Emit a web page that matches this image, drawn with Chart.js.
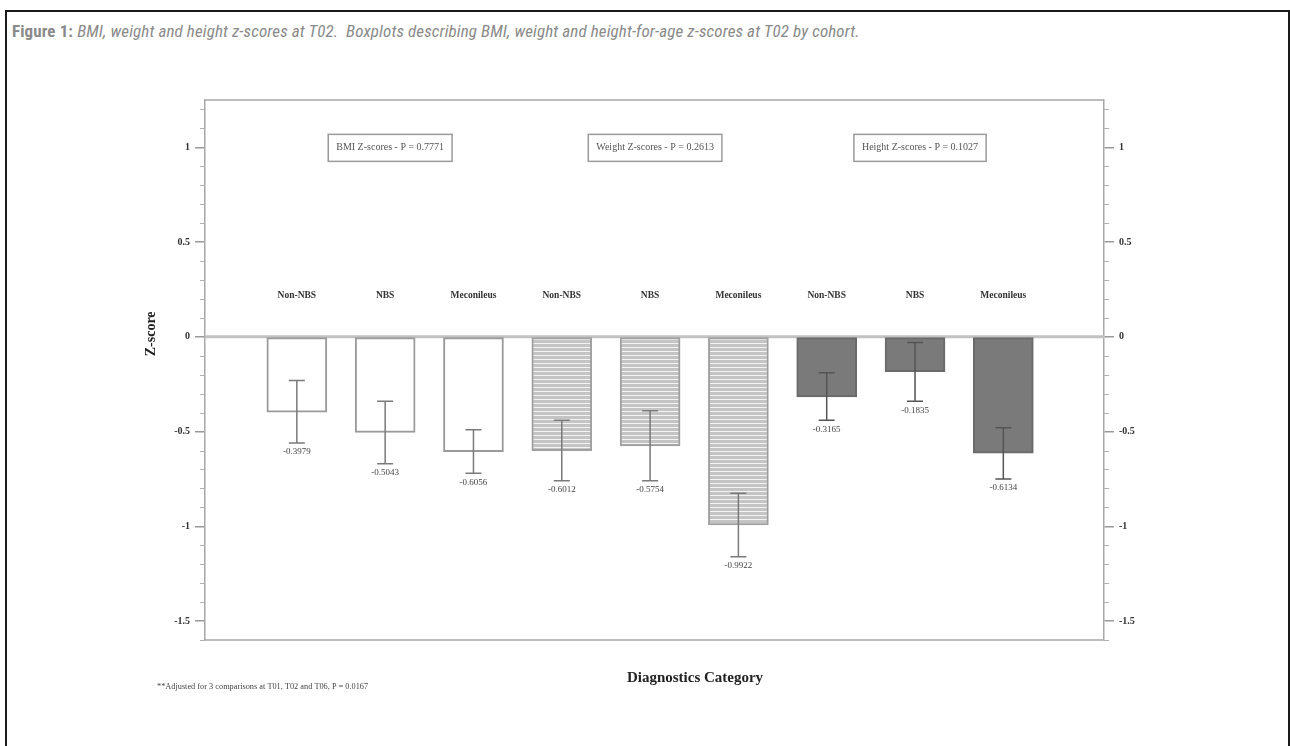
<!DOCTYPE html>
<html>
<head>
<meta charset="utf-8">
<script src="https://cdn.jsdelivr.net/npm/chart.js@4.4.0/dist/chart.umd.min.js"></script>
<style>
body { margin: 0; background: #fff; width: 1290px; height: 746px; overflow: hidden; position: relative; }
#frame { position: absolute; left: 5px; top: 10px; width: 1281px; height: 760px; border: 2px solid #1a1a1a; border-bottom: none; }
#caption { position: absolute; left: 12px; top: 21px; font-family: "Liberation Sans Narrow", "Roboto Condensed", "Arial Narrow", sans-serif; font-size: 17px; letter-spacing: 0.12px; color: #8a8a8a; white-space: nowrap; }
#caption b { font-weight: bold; }
#caption i { font-style: italic; }
canvas { position: absolute; left: 0; top: 0; }
</style>
</head>
<body>
<div id="frame"></div>
<div id="caption"><b>Figure 1:</b> <i>BMI, weight and height z-scores at T02.&nbsp; Boxplots describing BMI, weight and height-for-age z-scores at T02 by cohort.</i></div>
<canvas id="chart" width="1290" height="746"></canvas>
<script>
// Data
const categories = ["Non-NBS", "NBS", "Meconileus", "Non-NBS", "NBS", "Meconileus", "Non-NBS", "NBS", "Meconileus"];
const groupOf = [0, 0, 0, 1, 1, 1, 2, 2, 2];
const means = [-0.3979, -0.5043, -0.6056, -0.6012, -0.5754, -0.9922, -0.3165, -0.1835, -0.6134];
const errLow = [-0.56, -0.67, -0.72, -0.76, -0.76, -1.16, -0.44, -0.34, -0.75];
const errHigh = [-0.23, -0.34, -0.49, -0.44, -0.39, -0.826, -0.19, -0.03, -0.48];
const pLabels = ["BMI Z-scores - P = 0.7771", "Weight Z-scores - P = 0.2613", "Height Z-scores - P = 0.1027"];
const yTicks = [1, 0.5, 0, -0.5, -1, -1.5];
const footnote = "**Adjusted for 3 comparisons at T01, T02 and T06, P = 0.0167";

const serif = '"Liberation Serif", "DejaVu Serif", serif';

// striped fill for the weight bars
const stripe = document.createElement('canvas');
stripe.width = 8; stripe.height = 4;
const sctx = stripe.getContext('2d');
sctx.fillStyle = '#c4c4c4';
sctx.fillRect(0, 0, 8, 4);
sctx.fillStyle = '#f4f4f4';
sctx.fillRect(0, 3, 8, 1);
const stripePattern = sctx.createPattern(stripe, 'repeat');

const groupFill = ['#ffffff', stripePattern, '#7a7a7a'];
const groupBorder = ['#9a9a9a', '#a0a0a0', '#6a6a6a'];

// Extra drawing: frame, zero line, minor ticks, error bars, labels
const decor = {
    id: 'decor',
    beforeDatasetsDraw(chart) {
        const { ctx, chartArea: a, scales } = chart;
        const y = scales.y;
        ctx.save();
        ctx.strokeStyle = '#c2c2c2';
        ctx.lineWidth = 3;
        ctx.beginPath();
        ctx.moveTo(a.left, y.getPixelForValue(0));
        ctx.lineTo(a.right, y.getPixelForValue(0));
        ctx.stroke();
        ctx.restore();
    },
    afterDatasetsDraw(chart) {
        const { ctx, chartArea: a, scales } = chart;
        const x = scales.x, y = scales.y;
        ctx.save();
        // top and bottom border of plot box
        ctx.strokeStyle = '#a8a8a8';
        ctx.lineWidth = 1.5;
        ctx.beginPath();
        ctx.moveTo(a.left, a.top);
        ctx.lineTo(a.right, a.top);
        ctx.moveTo(a.left, a.bottom);
        ctx.lineTo(a.right, a.bottom);
        ctx.stroke();

        // minor ticks
        ctx.strokeStyle = '#b0b0b0';
        ctx.lineWidth = 1;
        for (let k = -16; k <= 12; k++) {
            if (k % 5 === 0) continue;
            const py = Math.round(y.getPixelForValue(k / 10)) + 0.5;
            ctx.beginPath();
            ctx.moveTo(a.left - 5, py); ctx.lineTo(a.left, py);
            ctx.moveTo(a.right, py); ctx.lineTo(a.right + 5, py);
            ctx.stroke();
        }

        // error bars and mean labels
        for (let i = 0; i < means.length; i++) {
            const px = x.getPixelForValue(i);
            const hi = y.getPixelForValue(errHigh[i]);
            const lo = y.getPixelForValue(errLow[i]);
            ctx.strokeStyle = groupOf[i] === 2 ? '#555' : '#7a7a7a';
            ctx.lineWidth = 1.5;
            ctx.beginPath();
            ctx.moveTo(px, hi); ctx.lineTo(px, lo);
            ctx.moveTo(px - 8, hi); ctx.lineTo(px + 8, hi);
            ctx.moveTo(px - 8, lo); ctx.lineTo(px + 8, lo);
            ctx.stroke();
            ctx.fillStyle = '#444';
            ctx.font = '9px ' + serif;
            ctx.textAlign = 'center';
            ctx.textBaseline = 'middle';
            ctx.fillText(means[i].toFixed(4), px, lo + 9);

            // category label above the zero line
            ctx.fillStyle = '#333';
            ctx.font = 'bold 9.5px ' + serif;
            ctx.fillText(categories[i], px, y.getPixelForValue(0.216));
        }

        // P value boxes
        for (let g = 0; g < pLabels.length; g++) {
            const cx = x.getPixelForValue(g * 3 + 1) + 5;
            const cy = y.getPixelForValue(1.0);
            ctx.font = '10px ' + serif;
            const w = ctx.measureText(pLabels[g]).width + 16;
            ctx.strokeStyle = '#9a9a9a';
            ctx.lineWidth = 1.5;
            ctx.strokeRect(cx - w / 2, cy - 13, w, 27);
            ctx.fillStyle = '#555';
            ctx.textAlign = 'center';
            ctx.textBaseline = 'middle';
            ctx.fillText(pLabels[g], cx, cy + 0.5);
        }

        // axis titles and footnote
        ctx.fillStyle = '#222';
        ctx.font = 'bold 15px ' + serif;
        ctx.textAlign = 'center';
        ctx.fillText('Diagnostics Category', 695, a.bottom + 38);
        ctx.font = '8.3px ' + serif;
        ctx.fillStyle = '#444';
        ctx.textAlign = 'left';
        ctx.fillText(footnote, 157, a.bottom + 47);
        ctx.save();
        ctx.translate(151, y.getPixelForValue(0) - 3);
        ctx.rotate(-Math.PI / 2);
        ctx.font = 'bold 14px ' + serif;
        ctx.fillStyle = '#222';
        ctx.textAlign = 'center';
        ctx.fillText('Z-score', 0, 0);
        ctx.restore();
        ctx.restore();
    }
};

const yAxisCommon = {
    type: 'linear',
    min: -1.6,
    max: 1.25,
    afterBuildTicks: scale => { scale.ticks = yTicks.map(v => ({ value: v })); },
    grid: { drawOnChartArea: false, drawTicks: true, tickLength: 10, color: '#999', lineWidth: 1.5 },
    border: { display: true, color: '#a8a8a8', width: 1.5 },
    ticks: {
        color: '#333',
        font: { family: serif, size: 10, weight: 'bold' },
        padding: 5,
        callback: v => String(v)
    }
};

new Chart(document.getElementById('chart'), {
    type: 'bar',
    data: {
        datasets: [{
            data: means.map((m, i) => ({ x: i, y: m })),
            backgroundColor: means.map((m, i) => groupFill[groupOf[i]]),
            borderColor: means.map((m, i) => groupBorder[groupOf[i]]),
            borderWidth: 2,
            borderSkipped: false,
            barThickness: 60
        }]
    },
    options: {
        responsive: false,
        animation: false,
        layout: { padding: { top: 100, bottom: 106, left: 0, right: 0 } },
        plugins: { legend: { display: false }, tooltip: { enabled: false } },
        scales: {
            x: { type: 'linear', min: -1.04, max: 9.14, offset: false, display: false },
            y: Object.assign({}, yAxisCommon, { position: 'left', afterFit: s => { s.width = 205; } }),
            y2: Object.assign({}, yAxisCommon, { position: 'right', afterFit: s => { s.width = 186; } })
        }
    },
    plugins: [decor]
});
</script>
</body>
</html>
